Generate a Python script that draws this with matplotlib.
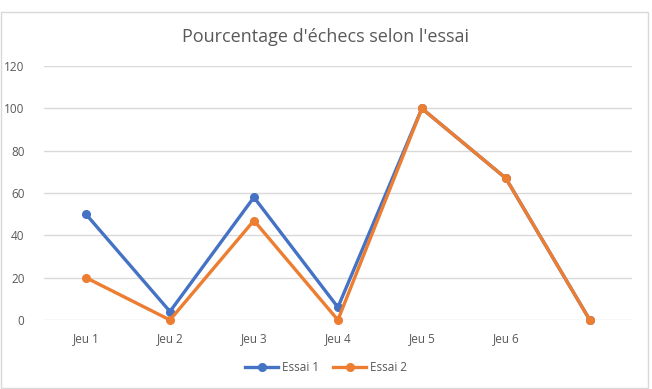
import matplotlib
matplotlib.use("Agg")
import matplotlib.pyplot as plt
from matplotlib.patches import Rectangle

categories = ["Jeu 1", "Jeu 2", "Jeu 3", "Jeu 4", "Jeu 5", "Jeu 6", ""]
essai1 = [50, 4, 58, 6, 100, 67, 0]
essai2 = [20, 0, 47, 0, 100, 67, 0]

plt.rcParams['font.family'] = ['Open Sans', 'DejaVu Sans']

fig = plt.figure(figsize=(6.52, 3.89), dpi=100)
ax = fig.add_axes([0.0675, 0.1774, 0.9015, 0.6526])

# chart frame
fig.patches.append(Rectangle((0.002, 0.003), 0.992, 0.966, transform=fig.transFigure,
                             fill=False, edgecolor="#D9D9D9", linewidth=1))

x = list(range(len(categories)))
ax.plot(x, essai1, color="#4472C4", linewidth=2.4, marker="o", markersize=5.5,
        label="Essai 1", clip_on=False)
ax.plot(x, essai2, color="#ED7D31", linewidth=2.4, marker="o", markersize=5.5,
        label="Essai 2", clip_on=False)

ax.set_xlim(-0.5, len(categories) - 0.5)
ax.set_ylim(0, 120)
ax.set_yticks(range(0, 121, 20))
ax.set_xticks(x)
ax.set_xticklabels(categories)
ax.grid(axis="y", color="#D9D9D9", linewidth=1)
ax.set_axisbelow(True)
for s in ax.spines.values():
    s.set_visible(False)
ax.tick_params(length=0, colors="#595959", labelsize=8.5)
ax.tick_params(axis="y", pad=14)
ax.tick_params(axis="x", pad=9)

fig.text(0.5, 0.905, "Pourcentage d'échecs selon l'essai", ha="center", va="center",
         fontsize=13, color="#595959")

fig.legend(loc="center", bbox_to_anchor=(0.5, 0.055), ncol=2, frameon=False,
           fontsize=8.5, labelcolor="#595959", handlelength=2.8, columnspacing=1.2,
           handletextpad=0.3)

fig.savefig("out.png", dpi=100)
